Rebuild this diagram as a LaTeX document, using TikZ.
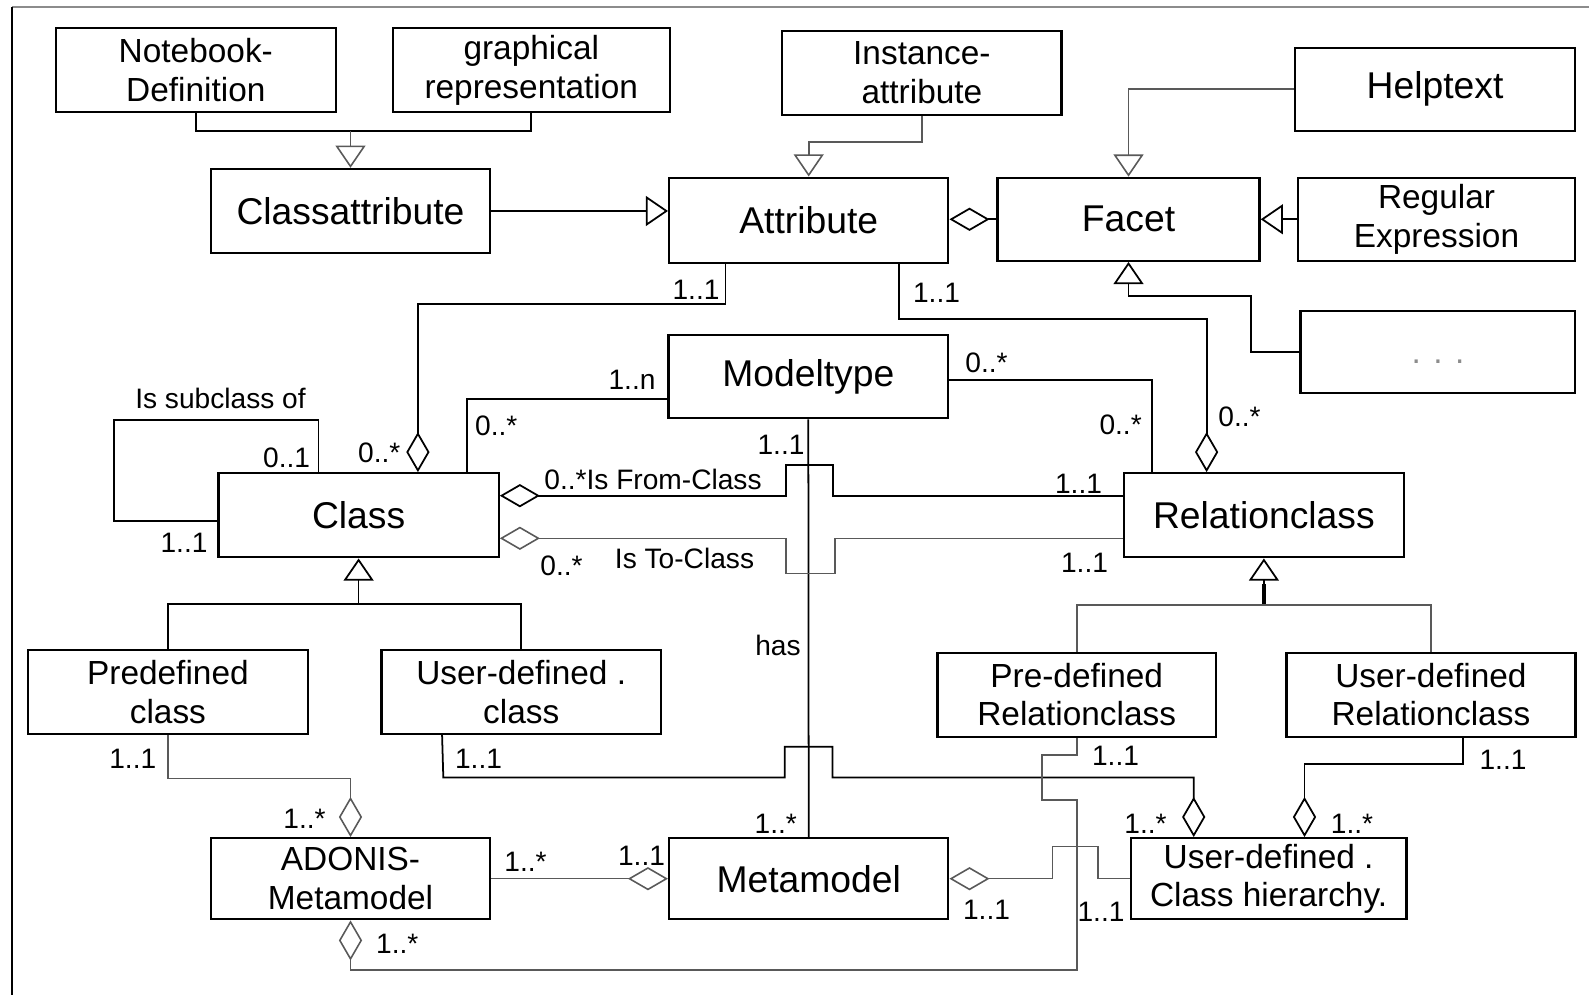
\documentclass[tikz,border=0pt]{standalone}
\usepackage{fontspec}
\setmainfont{Liberation Sans}
\usetikzlibrary{arrows.meta,calc}
\newcommand{\umlbig}{\fontsize{10.6pt}{12pt}\selectfont}
\newcommand{\umlbox}{\fontsize{9.5pt}{11pt}\selectfont}
\newcommand{\umllbl}{\fontsize{8pt}{9.5pt}\selectfont}
\tikzset{
  UTri/.tip={Triangle[open,length=6.3pt,width=8.5pt]},
  UDia/.tip={Diamond[open,length=11.4pt,width=6.6pt]},
  bx/.style={draw, line width=0.65pt, inner sep=0pt, align=center, font=\umlbox},
  bigbx/.style={bx, font=\umlbig},
  conn/.style={line width=0.5pt, draw=black},
  connl/.style={line width=0.45pt, draw=black!65},
  lbl/.style={inner sep=0pt, font=\umllbl}
}
\begin{document}
\begin{tikzpicture}[x=0.01cm, y=-0.01cm]
\useasboundingbox (0,0) rectangle (1589,995);
% frame
\draw[black!45, line width=0.6pt] (12,7) -- (1589,7);
\draw[black, line width=0.7pt] (12,7) -- (12,995);

% classes
\node[bx, minimum width=2.80cm, minimum height=0.84cm] (nb) at (195.8,70.3) {Notebook-\\Definition};
\node[bx, minimum width=2.77cm, minimum height=0.84cm] (gr) at (531.3,70.3) {graphical\\representation};
\node[bigbx, minimum width=2.795cm, minimum height=0.84cm] (ca) at (350.5,211) {Classattribute};
\node[bigbx, minimum width=2.79cm, minimum height=0.856cm] (at) at (808.7,220.5) {Attribute};
\node[bx, minimum width=2.79cm, minimum height=0.84cm] (ia) at (921.9,73) {Instance-\\attribute};
\node[bigbx, minimum width=2.80cm, minimum height=0.83cm] (ht) at (1435,89.3) {Helptext};
\node[bigbx, minimum width=2.62cm, minimum height=0.83cm] (fa) at (1128.5,219.3) {Facet};
\node[bx, minimum width=2.77cm, minimum height=0.83cm] (re) at (1436.5,219.3) {Regular\\Expression};
\node[bx, minimum width=2.74cm, minimum height=0.82cm] (dt) at (1437.6,351.8) {};
\node[lbl, font=\umlbox, text=black!45] (dtl) at (1438,362) {. . .};
\node[bigbx, minimum width=2.794cm, minimum height=0.83cm] (mt) at (808.3,376.7) {Modeltype};
\node[bigbx, minimum width=2.80cm, minimum height=0.84cm] (cl) at (358.6,515.3) {Class};
\node[bigbx, minimum width=2.80cm, minimum height=0.84cm] (rc) at (1263.9,515.3) {Relationclass};
\node[bx, minimum width=2.80cm, minimum height=0.84cm] (pc) at (167.9,692) {Predefined\\class};
\node[bx, minimum width=2.79cm, minimum height=0.84cm] (uc) at (521.2,692) {User-defined .\\class};
\node[bx, minimum width=2.795cm, minimum height=0.81cm] (am) at (350.5,878.7) {ADONIS-\\Metamodel};
\node[bigbx, minimum width=2.79cm, minimum height=0.81cm] (mm) at (808.7,878.7) {Metamodel};
\node[bx, minimum width=2.785cm, minimum height=0.84cm] (pr) at (1076.7,694.7) {Pre-defined\\Relationclass};
\node[bx, minimum width=2.887cm, minimum height=0.84cm] (ur) at (1430.9,694.7) {User-defined\\Relationclass};
\node[bx, minimum width=2.755cm, minimum height=0.81cm] (ch) at (1268.6,878.7) {User-defined .\\Class hierarchy.};

% generalisations
\coordinate (j1) at (350.5,131);
\draw[conn] (nb.south) |- (j1) -| (gr.south);
\draw[connl,-UTri] (j1) -- (ca.north);
\draw[conn,-UTri] (ca.east) -- (ca.east -| at.west);
\coordinate (c1) at (808.7,142.3);
\draw[connl,-UTri] (ia.south) |- (c1) -- (at.north);
\draw[connl,-UTri] (ht.west) -| (fa.north);
\draw[conn,-UTri] (re.west) -- (re.west -| fa.east);
\coordinate (g1) at (1251,296);
\draw[conn,-UTri] (dt.west) -| (g1) -| (fa.south);

% facet aggregation
\draw[conn,-UDia] (fa.west) -- (fa.west -| at.east);

% attribute to class / relationclass
\coordinate (h1) at (417.9,304.3);
\draw[conn,-UDia] ($(at.south west)+(57.4,0)$) |- (h1) -- (h1 |- cl.north);
\coordinate (i1) at (1206.6,319);
\draw[conn,-UDia] ($(at.south west)+(231.1,0)$) |- (i1) -- (i1 |- rc.north);

% modeltype associations
\coordinate (mtl) at (466.8,399);
\draw[conn] (mtl -| mt.west) -- (mtl) -- (mtl |- cl.north);
\coordinate (mtr) at (1152,380);
\draw[conn] (mtr -| mt.east) -- (mtr) -- (mtr |- rc.north);
\draw[conn] (mt.south) -- (mm.north);

% from / to class
\coordinate (fc1) at (786,495.7);
\coordinate (fc2) at (832.9,465);
\draw[conn,UDia-] (fc1 -| cl.east) -- (fc1) |- (fc2) -- (fc2 |- fc1) -- (fc1 -| rc.west);
\coordinate (tc1) at (786,538.3);
\coordinate (tc2) at (835,573.3);
\draw[connl,UDia-] (tc1 -| cl.east) -- (tc1) |- (tc2) -- (tc2 |- tc1) -- (tc1 -| rc.west);

% subclass loop
\coordinate (sa1) at (318.6,420);
\coordinate (sa2) at (114.3,521);
\draw[conn] (sa1 |- cl.north) -- (sa1) -| (sa2) -- (sa2 -| cl.west);

% class specialisations
\coordinate (cgj) at (358.6,604);
\draw[conn,-UTri] (cgj) -- (cl.south);
\draw[conn] (pc.north) |- (cgj) -| (uc.north);
\coordinate (rgj) at (1263.9,605);
\draw[line width=1.3pt] (rgj) -- ++(0,-21);
\draw[conn,-UTri] (rgj) -- (rc.south);
\draw[connl] (pr.north) |- (rgj) -| (ur.north);

% metamodel aggregations
\coordinate (r1) at (350.5,778.3);
\draw[connl,-UDia] (pc.south) |- (r1) -- (am.north);
\coordinate (s1) at (443.3,777.5);
\coordinate (s2) at (784.7,746.7);
\coordinate (s3) at (832.6,777.5);
\coordinate (s4) at (1193.7,777.5);
\draw[conn,-UDia] ($(uc.south west)+(61.6,0)$) -- (s1) -| (s2) -| (s3) -- (s4) -- (s4 |- ch.north);
\coordinate (t1) at (1304.5,764);
\draw[conn,-UDia] ($(ur.south west)+(177.9,0)$) |- (t1) -- (t1 |- ch.north);
\coordinate (u1) at (1042,755);
\coordinate (u2) at (1076.7,800);
\coordinate (u3) at (1076.7,970);
\draw[connl,-UDia] (pr.south) |- (u1) |- (u2) -- (u3) -| (am.south);
\coordinate (v1) at (1052.4,846.7);
\coordinate (v2) at (1098,846.7);
\draw[connl,UDia-] (mm.east) -| (v1) -- (v2) |- (ch.west);
\draw[connl,-UDia] (am.east) -- (am.east -| mm.west);

% multiplicities and role names
\node[lbl] (m1) at (696,290) {1..1};
\node[lbl] (m2) at (379.3,452.5) {0..*};
\node[lbl] (m3) at (936.5,292.5) {1..1};
\node[lbl] (m4) at (1239.5,416.5) {0..*};
\node[lbl] (m5) at (632,380) {1..n};
\node[lbl] (m6) at (496.3,426) {0..*};
\node[lbl] (m7) at (986.5,362.5) {0..*};
\node[lbl] (m8) at (1120.6,425) {0..*};
\node[lbl] (m9) at (781,445) {1..1};
\node[lbl] (m10) at (778,645.5) {has};
\node[lbl] (m11) at (775.8,823.4) {1..*};
\node[lbl] (m12) at (653,479) {0..*Is From-Class};
\node[lbl] (m13) at (1078.5,483.4) {1..1};
\node[lbl] (m14) at (561.5,566) {0..*};
\node[lbl] (m15) at (684.5,558.5) {Is To-Class};
\node[lbl] (m16) at (1084.5,562.5) {1..1};
\node[lbl] (m17) at (220.5,398.3) {Is subclass of};
\node[lbl] (m18) at (286.6,457.5) {0..1};
\node[lbl] (m19) at (184,543.3) {1..1};
\node[lbl] (m20) at (132.8,759.2) {1..1};
\node[lbl] (m21) at (304.5,819.2) {1..*};
\node[lbl] (m22) at (478.5,759.2) {1..1};
\node[lbl] (m23) at (1145.5,823.4) {1..*};
\node[lbl] (m24) at (1503,759.9) {1..1};
\node[lbl] (m25) at (1352,823.4) {1..*};
\node[lbl] (m26) at (1115.5,755.5) {1..1};
\node[lbl] (m27) at (397.3,944.2) {1..*};
\node[lbl] (m28) at (986.5,910) {1..1};
\node[lbl] (m29) at (1101,911.5) {1..1};
\node[lbl] (m30) at (525.5,861.5) {1..*};
\node[lbl] (m31) at (641.5,855.8) {1..1};
\end{tikzpicture}
\end{document}
